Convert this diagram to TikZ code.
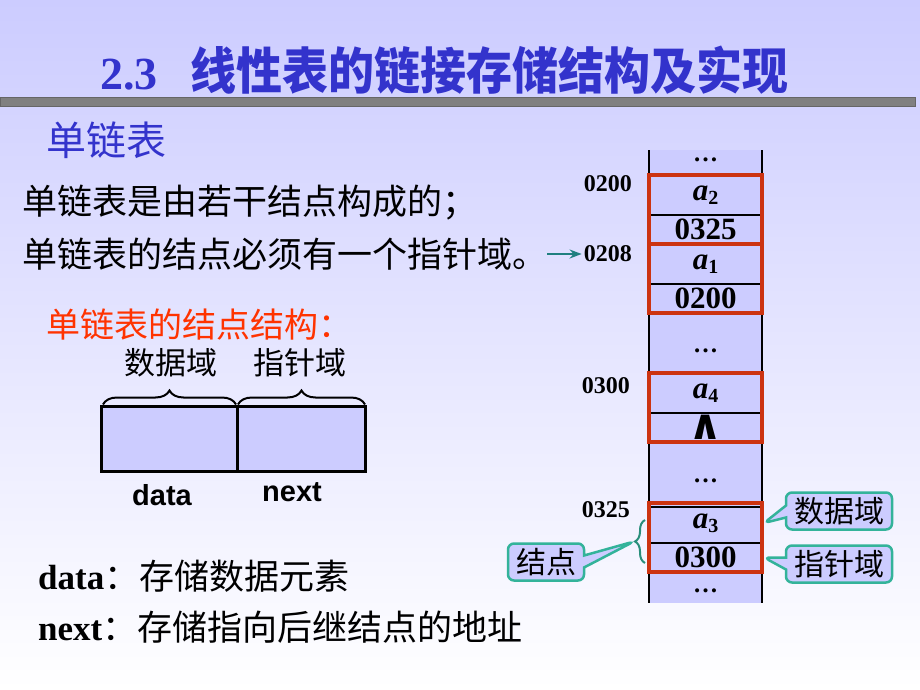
\documentclass[tikz,border=0pt]{standalone}
\usepackage{fontspec}
\setmainfont{Liberation Serif}
\newfontfamily\cjk{Noto Sans CJK SC}
\newfontfamily\arial{Liberation Sans}
\newfontfamily\symb{DejaVu Sans}
\usepackage{tikz}
\usetikzlibrary{positioning, arrows.meta, shapes.callouts, decorations.pathreplacing}

\definecolor{bgtop}{HTML}{CCCCFF}
\definecolor{cellblue}{HTML}{CCCCFF}
\definecolor{titleblue}{HTML}{3333CC}
\definecolor{headred}{HTML}{FF3300}
\definecolor{boxred}{HTML}{CC3311}
\definecolor{noteteal}{HTML}{33B39A}
\definecolor{arrowteal}{HTML}{1F7F7F}
\definecolor{bargray}{HTML}{808080}

\newcommand{\fsz}[1]{\fontsize{#1}{#1}\selectfont}
\newcommand{\avar}[1]{{\bfseries\itshape a}\raisebox{-0.3ex}{\fsz{20}\bfseries #1}}

\tikzset{
    body/.style={anchor=west, inner sep=0pt, font=\cjk\fsz{35}},
    fieldname/.style={inner sep=0pt, font=\cjk\fsz{31}},
    field/.style={draw=black, line width=3pt, fill=cellblue, minimum height=65pt, outer sep=0pt},
    bracket/.style={decorate, decoration={brace, amplitude=14pt, raise=2pt}, line width=2pt},
    sans/.style={font=\arial\bfseries\fsz{29}},
    cell/.style={minimum width=113pt, minimum height=40pt, inner sep=0pt, outer sep=0pt, font=\bfseries\fsz{31}},
    ptr/.style={minimum height=29pt},
    dots/.style={inner sep=0pt, font=\bfseries\fsz{25}},
    addr/.style={anchor=east, inner sep=2pt, font=\bfseries\fsz{24}},
    sep/.style={line width=1.5pt},
    redbox/.style={draw=boxred, line width=3.5pt},
    colline/.style={line width=2.5pt},
    note/.style={rectangle callout, draw=noteteal, line width=2.5pt, fill=cellblue, rounded corners=6pt,
        callout pointer width=12pt, minimum height=37pt, inner xsep=8pt, inner ysep=2pt, font=\cjk\fsz{30}},
    link/.style={-{Stealth[length=12pt, width=9pt]}, draw=arrowteal, line width=2pt},
}

\begin{document}
\begin{tikzpicture}[x=1pt, y=-1pt]
    \useasboundingbox (0,0) rectangle (920,690);
    \shade[top color=bgtop, bottom color=white] (0,0) rectangle (920,690);

    \node[anchor=west, inner sep=0pt, text=titleblue] (title) at (100,70)
        {{\bfseries\fsz{46}2.3}\hspace{33pt}\scalebox{0.92}[1]{\cjk\bfseries\fsz{50}线性表的链接存储结构及实现}};
    \fill[bargray, draw=black!60] (0,97) rectangle (915,106);

    \node[body, text=titleblue, font=\cjk\fsz{40}] (sub) at (46,140) {单链表};
    \node[body] (line1) at (22,203) {单链表是由若干结点构成的；};
    \node[body] (line2) at (22,254) {单链表的结点必须有一个指针域。};

    % node structure
    \node[body, text=headred, font=\cjk\fsz{34}] (struct) at (46,325) {单链表的结点结构：};
    \node[field, minimum width=136pt] (fdata) at (169,439) {};
    \node[field, minimum width=128pt, right=0pt of fdata] (fnext) {};
    \draw[bracket] ([xshift=2pt]fdata.north west) -- ([xshift=-1pt]fdata.north east);
    \draw[bracket] ([xshift=1pt]fnext.north west) -- (fnext.north east);
    \node[fieldname] (ldata) at (171,363) {数据域};
    \node[fieldname] (lnext) at (300,363) {指针域};
    \node[sans] (wdata) at (162,495) {data};
    \node[sans] (wnext) at (292,492) {next};

    \node[body] (ddata) at (38,576) {{\rmfamily\bfseries data}：存储数据元素};
    \node[body] (dnext) at (38,627) {{\rmfamily\bfseries next}：存储指向后继结点的地址};

    % memory column
    \node[minimum width=113pt, minimum height=453pt, fill=cellblue, inner sep=0pt, outer sep=0pt] (mem) at (705.5,376.5) {};
    \draw[colline] (mem.north west) -- (mem.south west);
    \draw[colline] (mem.north east) -- (mem.south east);

    \node[dots] (d1) at (705.5,160) {\ldots};
    \node[cell] (a2) at (705.5,195) {\avar{2}};
    \node[cell, ptr, below=0pt of a2] (n2) {0325};
    \node[cell, ptr, below=0pt of n2, minimum height=40pt] (a1) {\avar{1}};
    \node[cell, ptr, below=0pt of a1] (n1) {0200};
    \node[dots] (d2) at (705.5,351) {\ldots};
    \node[cell] (a4) at (705.5,393) {\avar{4}};
    \node[cell, ptr, below=0pt of a4] (n4) {\symb\bfseries\fsz{42}∧};
    \node[dots] (d3) at (705.5,481) {\ldots};
    \node[cell] (a3) at (705.5,523) {\avar{3}};
    \node[cell, ptr, below=0pt of a3] (n3) {0300};
    \node[dots] (d4) at (705.5,591) {\ldots};

    \foreach \c in {a2,a1,a4,a3}
        \draw[sep] (\c.south west) -- (\c.south east);
    \draw[sep] ([yshift=-4pt]a3.north west) -- ([yshift=-4pt]a3.north east);
    \foreach \c/\n in {a2/n2,a1/n1,a4/n4,a3/n3}
        \draw[redbox] (\c.north west) rectangle (\n.south east);

    \node[addr] (m0200) at (634,184) {0200};
    \node[addr] (m0208) at (634,254) {0208};
    \node[addr] (m0300) at (632,386) {0300};
    \node[addr] (m0325) at (632,510) {0325};
    \draw[link] (line2.east) -- (m0208.west);

    % callouts
    \coordinate (bt) at (645,520);
    \coordinate (bb) at (645,563);
    \coordinate (tip) at (634,541.5);
    \draw[decorate, decoration={brace, amplitude=10pt}, draw=noteteal!80!black, line width=2pt] (bb) -- (bt);
    \node[note, callout absolute pointer={(tip)}] (cnode) at (546,562) {结点};
    \node[note, callout absolute pointer={([xshift=2pt]a3.east)}] (cdata) at (839,511) {数据域};
    \node[note, callout absolute pointer={([xshift=2pt]n3.east)}] (cptr) at (839,564) {指针域};
\end{tikzpicture}
\end{document}
